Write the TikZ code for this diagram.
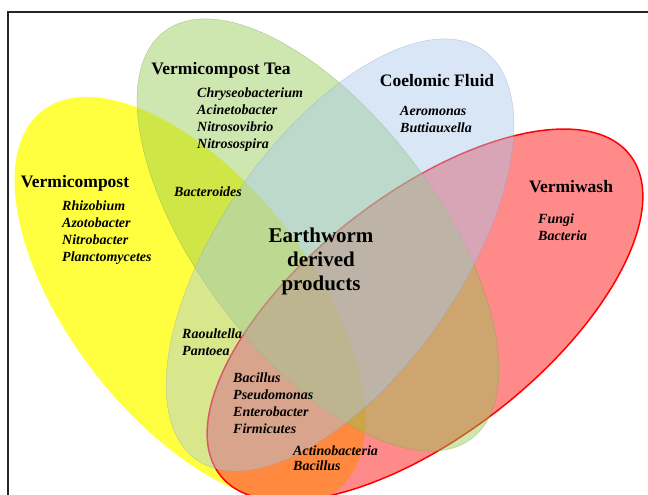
\documentclass[tikz,border=0pt]{standalone}
\usepackage{fontspec}
\setmainfont{Liberation Serif}
\usepackage{tikz}
\usetikzlibrary{positioning}
\usepackage{xcolor}

\definecolor{vcyellow}{RGB}{255,255,0}
\definecolor{teagreen}{RGB}{146,200,80}
\definecolor{fluidblue}{RGB}{170,200,235}
\definecolor{washred}{RGB}{255,60,60}

\tikzset{
  setname/.style={font=\fontsize{17.5}{20}\selectfont\bfseries, inner sep=0pt},
  species/.style={font=\fontsize{14}{17}\selectfont\bfseries\itshape, align=left, anchor=north west, inner sep=0pt},
}

\begin{document}
\begin{tikzpicture}[x=1pt,y=-1pt]
		\useasboundingbox (0,0) rectangle (648,495);
		% the four sets
		\fill[vcyellow, fill opacity=.75, rotate around={-52:(190,300)}] (190,300) ellipse [x radius=240, y radius=120];
		\filldraw[washred, fill opacity=.6, draw=red, line width=1.5pt, rotate around={38:(425,315)}] (425,315) ellipse [x radius=260, y radius=120];
		\filldraw[teagreen, fill opacity=.45, draw=teagreen!80!black, draw opacity=.5, rotate around={-53:(318,235)}] (318,235) ellipse [x radius=255, y radius=120];
		\filldraw[fluidblue, fill opacity=.45, draw=fluidblue!80!black, draw opacity=.5, rotate around={55:(340,255)}] (340,255) ellipse [x radius=250, y radius=120];
		% frame
		\draw[line width=1.5pt, black!85] (8,495) -- (8,12) -- (648,12);
		% set names
		\node[setname] (tea) at (221,70) {Vermicompost Tea};
		\node[setname] (fluid) at (437,81) {Coelomic Fluid};
		\node[setname] (compost) at (75,183) {Vermicompost};
		\node[setname] (wash) at (571,187) {Vermiwash};
		\node[font=\fontsize{21}{24}\selectfont\bfseries, align=center] (ewp) at (321,261) {Earthworm\\derived\\products};
		% bacteria
		\node[species] (teabact) at (197,88) {Chryseobacterium\\Acinetobacter\\Nitrosovibrio\\Nitrosospira};
		\node[species] (fluidbact) at (400,106) {Aeromonas\\Buttiauxella};
		\node[species] (compostbact) at (62,201) {Rhizobium\\Azotobacter\\Nitrobacter\\Planctomycetes};
		\node[species] (washbact) at (538,214) {Fungi\\Bacteria};
		\node[species, anchor=center] (bactero) at (208,192) {Bacteroides};
		\node[species] (raoul) at (182,329) {Raoultella\\Pantoea};
		\node[species] (bacil) at (233,373) {Bacillus\\Pseudomonas\\Enterobacter\\Firmicutes};
		\node[species, font=\fontsize{14}{15}\selectfont\bfseries\itshape] (actino) at (293,446) {Actinobacteria\\Bacillus};
	\end{tikzpicture}
\end{document}
